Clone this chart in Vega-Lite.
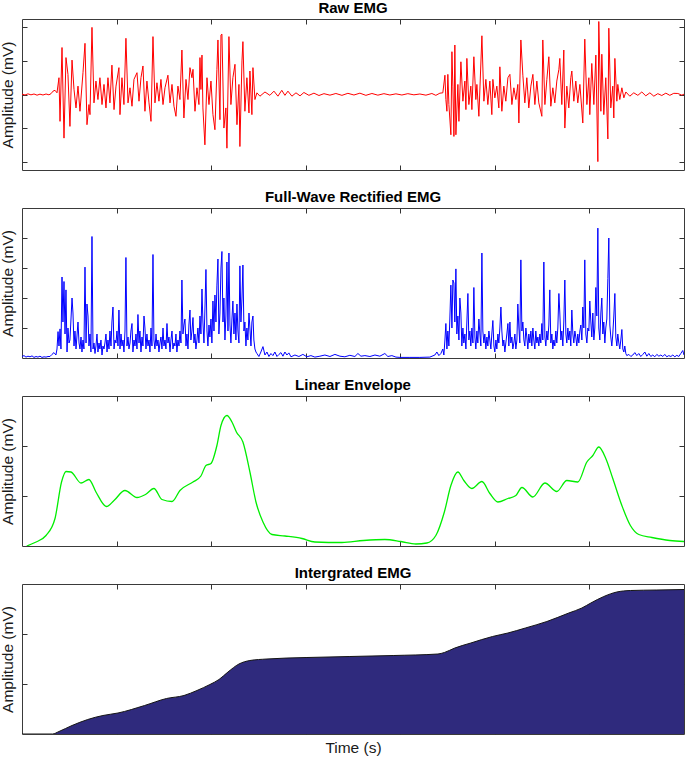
{
  "$schema": "https://vega.github.io/schema/vega-lite/v6.json",
  "padding": {"left": 0, "right": 1, "top": 0, "bottom": 0},
  "background": "white",
  "spacing": 18,
  "config": {
    "font": "Liberation Sans",
    "view": {"stroke": "#3a3a3a", "strokeWidth": 1},
    "title": {"fontSize": 15, "fontWeight": "bold", "color": "#000000", "offset": 3, "frame": "group", "font": "Liberation Sans"},
    "axis": {"labels": false, "domain": false, "grid": false, "tickSize": -5, "tickColor": "#333333", "tickWidth": 1, "titleFontSize": 15.5, "titleFontWeight": "normal", "titleColor": "#1a1a1a", "titlePadding": 6, "titleFont": "Liberation Sans"}
  },
  "datasets": {
    "frame": [{"t": 3.5, "v": 0.5}],
    "raw": [
      {"t":0,"v":0.02},{"t":0.032,"v":-0.03},{"t":0.063,"v":0.04},{"t":0.095,"v":-0.02},{"t":0.127,"v":0.03},{"t":0.159,"v":-0.04},{"t":0.19,"v":0.02},{"t":0.222,"v":-0.03},{"t":0.254,"v":0.03},{"t":0.285,"v":-0.02},{"t":0.307,"v":0.05},{"t":0.328,"v":0.2},{"t":0.349,"v":0.25},{"t":0.37,"v":0.1},
      {"t":0.391,"v":1.0},{"t":0.402,"v":-1.6},{"t":0.423,"v":2.8},{"t":0.444,"v":-2.6},{"t":0.465,"v":2.2},{"t":0.486,"v":1.2},{"t":0.507,"v":-1.9},{"t":0.529,"v":2.05},{"t":0.55,"v":0.3},{"t":0.571,"v":-0.8},{"t":0.592,"v":0.5},{"t":0.613,"v":-1.0},{"t":0.645,"v":1.3},{"t":0.666,"v":3.05},{"t":0.687,"v":-1.8},{"t":0.708,"v":-0.6},{"t":0.719,"v":-1.2},{"t":0.74,"v":4.0},{"t":0.761,"v":-0.5},{"t":0.782,"v":0.8},{"t":0.803,"v":-0.3},{"t":0.824,"v":1.0},{"t":0.846,"v":-0.6},{"t":0.867,"v":0.6},{"t":0.888,"v":-0.8},{"t":0.909,"v":1.0},{"t":0.93,"v":-0.5},{"t":0.951,"v":1.75},{"t":0.973,"v":-0.9},{"t":0.994,"v":0.5},{"t":1.025,"v":1.6},{"t":1.036,"v":-1.2},{"t":1.057,"v":1.0},{"t":1.078,"v":-0.6},{"t":1.099,"v":3.35},{"t":1.121,"v":-0.5},{"t":1.142,"v":0.4},{"t":1.163,"v":-0.7},{"t":1.184,"v":0.9},{"t":1.216,"v":1.3},{"t":1.237,"v":-0.4},{"t":1.258,"v":1.0},{"t":1.279,"v":1.7},{"t":1.3,"v":-1.0},{"t":1.321,"v":0.8},{"t":1.343,"v":-0.5},{"t":1.364,"v":-1.6},{"t":1.385,"v":3.45},{"t":1.406,"v":-0.5},{"t":1.427,"v":0.7},{"t":1.448,"v":-0.4},{"t":1.469,"v":0.9},{"t":1.491,"v":-0.6},{"t":1.512,"v":0.4},{"t":1.543,"v":1.15},{"t":1.565,"v":-0.5},{"t":1.586,"v":0.6},{"t":1.607,"v":-0.7},{"t":1.628,"v":-1.3},{"t":1.649,"v":0.5},{"t":1.67,"v":-0.3},{"t":1.691,"v":2.65},{"t":1.712,"v":-1.4},{"t":1.734,"v":0.9},{"t":1.755,"v":-0.3},{"t":1.776,"v":1.6},{"t":1.797,"v":1.0},{"t":1.808,"v":1.5},{"t":1.829,"v":-1.0},{"t":1.85,"v":0.4},{"t":1.871,"v":-0.6},{"t":1.882,"v":2.2},{"t":1.892,"v":0.3},{"t":1.903,"v":2.35},{"t":1.913,"v":-0.8},{"t":1.934,"v":-3.0},{"t":1.956,"v":1.0},{"t":1.977,"v":-0.6},{"t":1.998,"v":0.8},{"t":2.019,"v":-1.2},{"t":2.04,"v":-2.1},{"t":2.061,"v":1.5},{"t":2.072,"v":3.25},{"t":2.093,"v":-1.5},{"t":2.104,"v":3.55},{"t":2.114,"v":3.6},{"t":2.135,"v":-2.0},{"t":2.156,"v":-0.8},{"t":2.167,"v":-3.2},{"t":2.188,"v":3.45},{"t":2.209,"v":-0.6},{"t":2.23,"v":1.0},{"t":2.252,"v":1.8},{"t":2.273,"v":-1.8},{"t":2.294,"v":0.6},{"t":2.304,"v":-3.1},{"t":2.326,"v":2.0},{"t":2.336,"v":3.15},{"t":2.357,"v":-1.0},{"t":2.378,"v":1.0},{"t":2.4,"v":-1.1},{"t":2.41,"v":1.4},{"t":2.431,"v":-1.2},{"t":2.442,"v":1.6},{"t":2.463,"v":-0.3},{"t":2.484,"v":0.1},
      {"t":2.516,"v":-0.1},{"t":2.569,"v":0.15},{"t":2.621,"v":-0.05},{"t":2.664,"v":0.2},{"t":2.706,"v":-0.1},{"t":2.747,"v":0.25},{"t":2.78,"v":-0.05},{"t":2.812,"v":0.2},{"t":2.854,"v":-0.1},{"t":2.897,"v":0.1},{"t":2.94,"v":-0.08},{"t":2.981,"v":0.12},{"t":3.034,"v":-0.05},{"t":3.087,"v":0.08},{"t":3.14,"v":-0.06},{"t":3.193,"v":0.05},{"t":3.256,"v":-0.04},{"t":3.319,"v":0.06},{"t":3.383,"v":-0.05},{"t":3.446,"v":0.07},{"t":3.51,"v":-0.03},{"t":3.573,"v":0.08},{"t":3.636,"v":-0.05},{"t":3.7,"v":0.06},{"t":3.763,"v":-0.04},{"t":3.827,"v":0.05},{"t":3.89,"v":-0.03},{"t":3.954,"v":0.04},{"t":4.017,"v":-0.03},{"t":4.08,"v":0.05},{"t":4.144,"v":-0.02},{"t":4.207,"v":0.03},{"t":4.271,"v":-0.04},{"t":4.334,"v":0.06},{"t":4.376,"v":-0.05},{"t":4.419,"v":0.08},
      {"t":4.45,"v":0.1},{"t":4.472,"v":1.15},{"t":4.482,"v":-0.3},{"t":4.493,"v":-1.0},{"t":4.503,"v":1.2},{"t":4.514,"v":-0.6},{"t":4.535,"v":-2.4},{"t":4.546,"v":2.55},{"t":4.556,"v":0.5},{"t":4.567,"v":-2.5},{"t":4.577,"v":2.95},{"t":4.588,"v":-2.4},{"t":4.609,"v":0.6},{"t":4.62,"v":-1.6},{"t":4.641,"v":1.95},{"t":4.662,"v":-0.4},{"t":4.683,"v":0.8},{"t":4.694,"v":-0.9},{"t":4.704,"v":2.15},{"t":4.725,"v":-0.6},{"t":4.746,"v":0.5},{"t":4.757,"v":-0.9},{"t":4.778,"v":2.25},{"t":4.799,"v":-0.3},{"t":4.81,"v":0.6},{"t":4.831,"v":-1.3},{"t":4.863,"v":3.5},{"t":4.884,"v":-0.4},{"t":4.905,"v":0.9},{"t":4.926,"v":-0.6},{"t":4.947,"v":0.8},{"t":4.968,"v":-1.2},{"t":4.979,"v":0.9},{"t":5.0,"v":-0.2},{"t":5.021,"v":0.5},{"t":5.042,"v":-0.8},{"t":5.053,"v":1.65},{"t":5.074,"v":-1.0},{"t":5.095,"v":0.5},{"t":5.116,"v":-0.4},{"t":5.138,"v":1.0},{"t":5.159,"v":1.2},{"t":5.18,"v":-0.6},{"t":5.201,"v":0.4},{"t":5.222,"v":-0.3},{"t":5.243,"v":0.6},{"t":5.254,"v":-1.7},{"t":5.275,"v":3.25},{"t":5.296,"v":1.15},{"t":5.317,"v":-0.5},{"t":5.338,"v":1.0},{"t":5.359,"v":-0.8},{"t":5.381,"v":0.5},{"t":5.402,"v":1.2},{"t":5.423,"v":-0.6},{"t":5.444,"v":0.8},{"t":5.465,"v":-0.5},{"t":5.497,"v":-1.3},{"t":5.507,"v":3.25},{"t":5.529,"v":-0.6},{"t":5.55,"v":0.9},{"t":5.571,"v":2.25},{"t":5.592,"v":-0.7},{"t":5.613,"v":0.4},{"t":5.634,"v":-0.5},{"t":5.655,"v":0.8},{"t":5.677,"v":1.5},{"t":5.687,"v":2.15},{"t":5.708,"v":-0.6},{"t":5.729,"v":2.65},{"t":5.74,"v":-2.0},{"t":5.761,"v":0.5},{"t":5.782,"v":-0.8},{"t":5.803,"v":1.0},{"t":5.814,"v":1.4},{"t":5.835,"v":-0.4},{"t":5.856,"v":0.8},{"t":5.877,"v":-0.5},{"t":5.899,"v":0.6},{"t":5.93,"v":-1.7},{"t":5.951,"v":3.3},{"t":5.973,"v":-0.6},{"t":5.994,"v":1.0},{"t":6.004,"v":-1.2},{"t":6.025,"v":1.85},{"t":6.047,"v":-0.6},{"t":6.068,"v":2.35},{"t":6.089,"v":-4.0},{"t":6.099,"v":4.35},{"t":6.121,"v":-1.0},{"t":6.131,"v":2.4},{"t":6.152,"v":-1.2},{"t":6.173,"v":1.0},{"t":6.195,"v":-2.65},{"t":6.205,"v":3.95},{"t":6.226,"v":-0.8},{"t":6.247,"v":0.5},{"t":6.258,"v":-1.4},{"t":6.269,"v":2.15},{"t":6.29,"v":-0.4},{"t":6.3,"v":0.6},{"t":6.321,"v":-0.3},{"t":6.343,"v":0.4},{"t":6.364,"v":-0.2},{"t":6.385,"v":0.15},
      {"t":6.427,"v":-0.1},{"t":6.469,"v":0.1},{"t":6.512,"v":-0.05},{"t":6.554,"v":0.15},{"t":6.596,"v":-0.08},{"t":6.639,"v":0.1},{"t":6.681,"v":-0.1},{"t":6.723,"v":0.05},{"t":6.765,"v":-0.06},{"t":6.808,"v":0.08},{"t":6.85,"v":-0.05},{"t":6.892,"v":0.07},{"t":6.935,"v":0.06},{"t":6.977,"v":-0.04},{"t":7.0,"v":0.02}
    ],
    "rect": [
      {"t":0,"v":0.05},{"t":0.021,"v":0.08},{"t":0.042,"v":0.03},{"t":0.063,"v":0.06},{"t":0.085,"v":0.04},{"t":0.106,"v":0.07},{"t":0.127,"v":0.02},{"t":0.148,"v":0.05},{"t":0.169,"v":0.03},{"t":0.19,"v":0.06},{"t":0.211,"v":0.02},{"t":0.233,"v":0.04},{"t":0.254,"v":0.03},{"t":0.275,"v":0.05},
      {"t":0.296,"v":0.05},{"t":0.317,"v":0.12},{"t":0.338,"v":0.18},{"t":0.359,"v":0.1},{"t":0.37,"v":0.3},{"t":0.381,"v":0.88},{"t":0.391,"v":0.4},{"t":0.402,"v":0.97},{"t":0.412,"v":0.3},{"t":0.423,"v":2.7},{"t":0.433,"v":1.2},{"t":0.444,"v":2.55},{"t":0.455,"v":0.8},{"t":0.465,"v":2.27},{"t":0.476,"v":0.2},{"t":0.486,"v":1.0},{"t":0.497,"v":0.5},{"t":0.507,"v":0.6},{"t":0.518,"v":1.3},{"t":0.529,"v":2.0},{"t":0.539,"v":1.5},{"t":0.55,"v":0.4},{"t":0.56,"v":0.9},{"t":0.571,"v":0.3},{"t":0.592,"v":1.2},{"t":0.603,"v":0.5},{"t":0.613,"v":0.3},{"t":0.624,"v":0.7},{"t":0.634,"v":0.2},{"t":0.645,"v":0.6},{"t":0.655,"v":0.3},{"t":0.666,"v":3.03},{"t":0.677,"v":0.5},{"t":0.687,"v":1.8},{"t":0.698,"v":1.4},{"t":0.708,"v":0.4},{"t":0.719,"v":0.8},{"t":0.729,"v":0.2},{"t":0.74,"v":4.05},{"t":0.751,"v":0.3},{"t":0.761,"v":0.5},{"t":0.772,"v":0.15},{"t":0.782,"v":0.4},{"t":0.793,"v":0.8},{"t":0.803,"v":0.2},{"t":0.814,"v":0.5},{"t":0.824,"v":0.3},{"t":0.835,"v":0.6},{"t":0.846,"v":0.1},{"t":0.856,"v":0.4},{"t":0.867,"v":0.3},{"t":0.877,"v":0.5},{"t":0.888,"v":0.8},{"t":0.899,"v":0.2},{"t":0.909,"v":0.6},{"t":0.92,"v":0.3},{"t":0.93,"v":0.9},{"t":0.941,"v":0.4},{"t":0.951,"v":1.2},{"t":0.962,"v":1.7},{"t":0.973,"v":0.3},{"t":0.983,"v":0.6},{"t":0.994,"v":0.5},{"t":1.004,"v":0.9},{"t":1.015,"v":0.4},{"t":1.025,"v":1.6},{"t":1.036,"v":0.3},{"t":1.047,"v":0.8},{"t":1.057,"v":0.4},{"t":1.068,"v":0.6},{"t":1.078,"v":0.2},{"t":1.089,"v":0.9},{"t":1.099,"v":3.35},{"t":1.11,"v":0.4},{"t":1.121,"v":0.7},{"t":1.131,"v":0.3},{"t":1.142,"v":0.5},{"t":1.152,"v":0.9},{"t":1.163,"v":1.15},{"t":1.173,"v":0.2},{"t":1.184,"v":0.6},{"t":1.195,"v":0.4},{"t":1.205,"v":0.8},{"t":1.216,"v":0.3},{"t":1.226,"v":1.45},{"t":1.237,"v":0.5},{"t":1.247,"v":0.9},{"t":1.258,"v":0.2},{"t":1.269,"v":0.7},{"t":1.279,"v":0.4},{"t":1.29,"v":1.4},{"t":1.3,"v":1.0},{"t":1.311,"v":0.3},{"t":1.321,"v":0.8},{"t":1.332,"v":0.4},{"t":1.343,"v":0.6},{"t":1.353,"v":0.2},{"t":1.364,"v":1.0},{"t":1.374,"v":0.4},{"t":1.385,"v":3.45},{"t":1.395,"v":0.6},{"t":1.406,"v":0.3},{"t":1.417,"v":0.8},{"t":1.427,"v":0.4},{"t":1.438,"v":0.6},{"t":1.448,"v":0.2},{"t":1.459,"v":0.5},{"t":1.469,"v":0.7},{"t":1.48,"v":0.3},{"t":1.491,"v":1.0},{"t":1.501,"v":0.4},{"t":1.512,"v":0.6},{"t":1.522,"v":0.3},{"t":1.533,"v":1.15},{"t":1.543,"v":0.5},{"t":1.554,"v":0.7},{"t":1.565,"v":0.2},{"t":1.575,"v":0.6},{"t":1.586,"v":0.9},{"t":1.596,"v":0.3},{"t":1.607,"v":0.5},{"t":1.617,"v":0.4},{"t":1.628,"v":0.8},{"t":1.638,"v":0.2},{"t":1.649,"v":0.6},{"t":1.66,"v":0.4},{"t":1.67,"v":0.9},{"t":1.681,"v":0.5},{"t":1.691,"v":2.6},{"t":1.702,"v":0.8},{"t":1.712,"v":1.1},{"t":1.723,"v":1.3},{"t":1.734,"v":0.4},{"t":1.744,"v":0.8},{"t":1.755,"v":0.3},{"t":1.765,"v":1.1},{"t":1.776,"v":1.6},{"t":1.786,"v":0.6},{"t":1.797,"v":0.9},{"t":1.808,"v":1.35},{"t":1.818,"v":0.5},{"t":1.829,"v":0.8},{"t":1.839,"v":0.3},{"t":1.85,"v":0.6},{"t":1.86,"v":1.0},{"t":1.871,"v":0.5},{"t":1.882,"v":1.4},{"t":1.892,"v":0.8},{"t":1.903,"v":2.3},{"t":1.913,"v":1.2},{"t":1.924,"v":0.5},{"t":1.934,"v":1.6},{"t":1.945,"v":2.95},{"t":1.956,"v":0.9},{"t":1.966,"v":0.4},{"t":1.977,"v":1.1},{"t":1.987,"v":0.7},{"t":1.998,"v":1.3},{"t":2.008,"v":0.5},{"t":2.019,"v":1.9},{"t":2.03,"v":0.9},{"t":2.04,"v":2.1},{"t":2.051,"v":1.2},{"t":2.061,"v":2.43},{"t":2.072,"v":3.3},{"t":2.082,"v":0.8},{"t":2.093,"v":1.5},{"t":2.104,"v":3.0},{"t":2.114,"v":3.55},{"t":2.125,"v":1.2},{"t":2.135,"v":2.0},{"t":2.146,"v":0.6},{"t":2.156,"v":1.4},{"t":2.167,"v":3.2},{"t":2.178,"v":0.9},{"t":2.188,"v":3.5},{"t":2.199,"v":1.1},{"t":2.209,"v":0.5},{"t":2.22,"v":1.3},{"t":2.23,"v":1.9},{"t":2.241,"v":0.8},{"t":2.252,"v":1.5},{"t":2.262,"v":0.6},{"t":2.273,"v":1.8},{"t":2.283,"v":0.9},{"t":2.294,"v":0.5},{"t":2.304,"v":3.07},{"t":2.315,"v":1.2},{"t":2.326,"v":2.0},{"t":2.336,"v":3.1},{"t":2.347,"v":0.9},{"t":2.357,"v":1.2},{"t":2.368,"v":0.4},{"t":2.378,"v":1.0},{"t":2.389,"v":0.6},{"t":2.4,"v":1.5},{"t":2.41,"v":1.0},{"t":2.421,"v":0.4},{"t":2.431,"v":1.2},{"t":2.442,"v":1.4},{"t":2.452,"v":0.6},{"t":2.463,"v":0.3},{"t":2.474,"v":0.2},
      {"t":2.484,"v":0.15},{"t":2.505,"v":0.05},{"t":2.526,"v":0.2},{"t":2.548,"v":0.38},{"t":2.569,"v":0.1},{"t":2.59,"v":0.2},{"t":2.611,"v":0.05},{"t":2.632,"v":0.15},{"t":2.653,"v":0.08},{"t":2.674,"v":0.2},{"t":2.696,"v":0.05},{"t":2.717,"v":0.12},{"t":2.738,"v":0.18},{"t":2.759,"v":0.06},{"t":2.78,"v":0.2},{"t":2.801,"v":0.1},{"t":2.822,"v":0.17},{"t":2.844,"v":0.04},{"t":2.886,"v":0.1},{"t":2.928,"v":0.05},{"t":2.97,"v":0.12},{"t":3.013,"v":0.04},{"t":3.055,"v":0.08},{"t":3.097,"v":0.03},{"t":3.15,"v":0.06},{"t":3.203,"v":0.1},{"t":3.256,"v":0.05},{"t":3.309,"v":0.12},{"t":3.362,"v":0.06},{"t":3.414,"v":0.04},{"t":3.467,"v":0.09},{"t":3.52,"v":0.05},{"t":3.552,"v":0.15},{"t":3.584,"v":0.06},{"t":3.626,"v":0.08},{"t":3.679,"v":0.05},{"t":3.732,"v":0.1},{"t":3.784,"v":0.06},{"t":3.837,"v":0.15},{"t":3.869,"v":0.05},{"t":3.911,"v":0.08},{"t":3.954,"v":0.03},{"t":3.996,"v":0.02},{"t":4.102,"v":0.02},{"t":4.207,"v":0.02},{"t":4.313,"v":0.03},{"t":4.366,"v":0.1},{"t":4.387,"v":0.2},{"t":4.408,"v":0.08},{"t":4.429,"v":0.15},{"t":4.45,"v":0.3},{"t":4.461,"v":0.1},
      {"t":4.472,"v":0.6},{"t":4.482,"v":1.15},{"t":4.493,"v":0.3},{"t":4.503,"v":0.9},{"t":4.514,"v":0.4},{"t":4.524,"v":1.3},{"t":4.535,"v":2.43},{"t":4.546,"v":1.0},{"t":4.556,"v":2.6},{"t":4.567,"v":2.5},{"t":4.577,"v":1.2},{"t":4.588,"v":2.97},{"t":4.598,"v":0.8},{"t":4.609,"v":1.4},{"t":4.62,"v":0.6},{"t":4.63,"v":2.0},{"t":4.641,"v":1.5},{"t":4.651,"v":0.4},{"t":4.662,"v":1.0},{"t":4.672,"v":0.5},{"t":4.683,"v":0.8},{"t":4.694,"v":0.3},{"t":4.704,"v":1.2},{"t":4.715,"v":2.15},{"t":4.725,"v":0.6},{"t":4.736,"v":0.9},{"t":4.746,"v":0.4},{"t":4.757,"v":1.0},{"t":4.768,"v":0.5},{"t":4.778,"v":2.35},{"t":4.789,"v":0.7},{"t":4.799,"v":0.3},{"t":4.81,"v":0.9},{"t":4.82,"v":0.5},{"t":4.831,"v":1.3},{"t":4.842,"v":0.8},{"t":4.852,"v":0.4},{"t":4.863,"v":3.5},{"t":4.873,"v":0.9},{"t":4.884,"v":0.5},{"t":4.894,"v":0.8},{"t":4.905,"v":0.3},{"t":4.916,"v":0.7},{"t":4.926,"v":0.4},{"t":4.937,"v":0.9},{"t":4.947,"v":0.6},{"t":4.958,"v":0.3},{"t":4.968,"v":0.8},{"t":4.979,"v":1.25},{"t":4.99,"v":0.4},{"t":5.0,"v":0.2},{"t":5.011,"v":0.6},{"t":5.021,"v":0.3},{"t":5.032,"v":0.8},{"t":5.042,"v":0.5},{"t":5.053,"v":1.0},{"t":5.064,"v":1.7},{"t":5.074,"v":0.9},{"t":5.085,"v":0.4},{"t":5.095,"v":0.6},{"t":5.106,"v":0.2},{"t":5.116,"v":0.5},{"t":5.127,"v":0.8},{"t":5.138,"v":1.15},{"t":5.148,"v":0.4},{"t":5.159,"v":1.2},{"t":5.169,"v":0.5},{"t":5.18,"v":0.7},{"t":5.19,"v":0.3},{"t":5.201,"v":0.5},{"t":5.212,"v":0.8},{"t":5.222,"v":0.3},{"t":5.233,"v":0.6},{"t":5.243,"v":1.8},{"t":5.254,"v":1.0},{"t":5.264,"v":0.5},{"t":5.275,"v":3.27},{"t":5.286,"v":0.9},{"t":5.296,"v":1.2},{"t":5.307,"v":0.6},{"t":5.317,"v":0.4},{"t":5.328,"v":1.0},{"t":5.338,"v":0.7},{"t":5.349,"v":0.3},{"t":5.359,"v":0.8},{"t":5.37,"v":0.5},{"t":5.381,"v":0.9},{"t":5.391,"v":0.4},{"t":5.402,"v":1.0},{"t":5.412,"v":0.6},{"t":5.423,"v":0.3},{"t":5.433,"v":0.9},{"t":5.444,"v":0.5},{"t":5.455,"v":0.7},{"t":5.465,"v":0.4},{"t":5.476,"v":0.8},{"t":5.486,"v":0.5},{"t":5.497,"v":1.15},{"t":5.507,"v":0.6},{"t":5.518,"v":3.2},{"t":5.529,"v":0.7},{"t":5.539,"v":0.4},{"t":5.55,"v":0.9},{"t":5.56,"v":0.6},{"t":5.571,"v":1.1},{"t":5.581,"v":2.27},{"t":5.592,"v":0.5},{"t":5.603,"v":0.8},{"t":5.613,"v":0.3},{"t":5.624,"v":0.6},{"t":5.634,"v":0.4},{"t":5.645,"v":0.9},{"t":5.655,"v":0.5},{"t":5.666,"v":1.0},{"t":5.677,"v":2.15},{"t":5.687,"v":1.5},{"t":5.698,"v":0.6},{"t":5.708,"v":0.9},{"t":5.719,"v":0.4},{"t":5.729,"v":1.2},{"t":5.74,"v":2.6},{"t":5.751,"v":0.8},{"t":5.761,"v":0.5},{"t":5.772,"v":1.0},{"t":5.782,"v":0.6},{"t":5.793,"v":0.9},{"t":5.803,"v":0.4},{"t":5.814,"v":1.6},{"t":5.825,"v":0.8},{"t":5.835,"v":0.5},{"t":5.846,"v":0.9},{"t":5.856,"v":0.7},{"t":5.867,"v":0.4},{"t":5.877,"v":0.8},{"t":5.888,"v":0.5},{"t":5.899,"v":0.9},{"t":5.909,"v":1.1},{"t":5.92,"v":0.6},{"t":5.93,"v":1.7},{"t":5.941,"v":1.0},{"t":5.951,"v":3.27},{"t":5.962,"v":0.8},{"t":5.973,"v":0.5},{"t":5.983,"v":1.0},{"t":5.994,"v":0.9},{"t":6.004,"v":1.9},{"t":6.015,"v":1.2},{"t":6.025,"v":0.7},{"t":6.036,"v":1.5},{"t":6.047,"v":0.6},{"t":6.057,"v":1.0},{"t":6.068,"v":2.35},{"t":6.078,"v":1.4},{"t":6.089,"v":4.33},{"t":6.099,"v":1.0},{"t":6.11,"v":0.6},{"t":6.121,"v":1.5},{"t":6.131,"v":2.0},{"t":6.142,"v":0.8},{"t":6.152,"v":1.2},{"t":6.163,"v":0.5},{"t":6.173,"v":1.0},{"t":6.184,"v":1.3},{"t":6.195,"v":2.65},{"t":6.205,"v":4.0},{"t":6.216,"v":1.1},{"t":6.226,"v":0.7},{"t":6.237,"v":0.4},{"t":6.247,"v":0.8},{"t":6.258,"v":1.4},{"t":6.269,"v":2.15},{"t":6.279,"v":0.7},{"t":6.29,"v":0.4},{"t":6.3,"v":0.8},{"t":6.311,"v":0.5},{"t":6.321,"v":0.3},{"t":6.332,"v":0.6},{"t":6.343,"v":0.95},{"t":6.353,"v":0.3},{"t":6.364,"v":0.2},{"t":6.374,"v":0.4},{"t":6.385,"v":0.15},{"t":6.395,"v":0.08},
      {"t":6.417,"v":0.12},{"t":6.438,"v":0.05},{"t":6.459,"v":0.1},{"t":6.48,"v":0.18},{"t":6.501,"v":0.08},{"t":6.522,"v":0.15},{"t":6.543,"v":0.05},{"t":6.565,"v":0.12},{"t":6.586,"v":0.2},{"t":6.607,"v":0.06},{"t":6.628,"v":0.15},{"t":6.649,"v":0.05},{"t":6.67,"v":0.1},{"t":6.691,"v":0.04},{"t":6.713,"v":0.12},{"t":6.734,"v":0.06},{"t":6.755,"v":0.1},{"t":6.776,"v":0.05},{"t":6.797,"v":0.12},{"t":6.818,"v":0.04},{"t":6.839,"v":0.08},{"t":6.861,"v":0.05},{"t":6.882,"v":0.1},{"t":6.903,"v":0.04},{"t":6.924,"v":0.09},{"t":6.945,"v":0.05},{"t":6.966,"v":0.15},{"t":6.987,"v":0.25},{"t":7.0,"v":0.1}
    ],
    "env": [
      {"t":0.05,"v":0},{"t":0.137,"v":0.07},{"t":0.254,"v":0.21},{"t":0.349,"v":0.55},{"t":0.418,"v":1.28},{"t":0.465,"v":1.49},{"t":0.518,"v":1.48},{"t":0.624,"v":1.26},{"t":0.708,"v":1.33},{"t":0.782,"v":1.08},{"t":0.893,"v":0.79},{"t":0.973,"v":0.91},{"t":1.089,"v":1.11},{"t":1.216,"v":0.97},{"t":1.306,"v":1.03},{"t":1.395,"v":1.15},{"t":1.48,"v":0.93},{"t":1.586,"v":0.89},{"t":1.67,"v":1.11},{"t":1.808,"v":1.28},{"t":1.892,"v":1.4},{"t":1.945,"v":1.61},{"t":1.998,"v":1.65},{"t":2.061,"v":2.01},{"t":2.104,"v":2.41},{"t":2.167,"v":2.61},{"t":2.22,"v":2.48},{"t":2.267,"v":2.28},{"t":2.336,"v":2.08},{"t":2.41,"v":1.48},{"t":2.474,"v":0.88},{"t":2.548,"v":0.48},{"t":2.643,"v":0.23},{"t":2.78,"v":0.2},{"t":2.96,"v":0.15},{"t":3.097,"v":0.08},{"t":3.383,"v":0.07},{"t":3.61,"v":0.11},{"t":3.837,"v":0.13},{"t":4.006,"v":0.09},{"t":4.165,"v":0.04},{"t":4.281,"v":0.06},{"t":4.376,"v":0.21},{"t":4.466,"v":0.68},{"t":4.535,"v":1.21},{"t":4.609,"v":1.48},{"t":4.672,"v":1.31},{"t":4.757,"v":1.15},{"t":4.863,"v":1.29},{"t":4.947,"v":1.05},{"t":5.032,"v":0.88},{"t":5.138,"v":0.95},{"t":5.222,"v":1.01},{"t":5.286,"v":1.17},{"t":5.402,"v":0.98},{"t":5.529,"v":1.26},{"t":5.655,"v":1.09},{"t":5.761,"v":1.31},{"t":5.877,"v":1.28},{"t":5.973,"v":1.68},{"t":6.036,"v":1.81},{"t":6.099,"v":1.98},{"t":6.173,"v":1.75},{"t":6.247,"v":1.35},{"t":6.343,"v":0.81},{"t":6.433,"v":0.41},{"t":6.522,"v":0.23},{"t":6.66,"v":0.17},{"t":6.85,"v":0.11},{"t":7.0,"v":0.09}
    ],
    "integ": [
      {"t":0,"v":0},{"t":0.323,"v":0},{"t":0.391,"v":0.05},{"t":0.529,"v":0.17},{"t":0.695,"v":0.29},{"t":0.856,"v":0.37},{"t":1.015,"v":0.42},{"t":1.296,"v":0.57},{"t":1.528,"v":0.71},{"t":1.713,"v":0.77},{"t":1.85,"v":0.87},{"t":1.987,"v":0.99},{"t":2.083,"v":1.09},{"t":2.178,"v":1.24},{"t":2.294,"v":1.4},{"t":2.41,"v":1.47},{"t":2.59,"v":1.5},{"t":3.013,"v":1.53},{"t":3.467,"v":1.55},{"t":3.932,"v":1.57},{"t":4.398,"v":1.6},{"t":4.466,"v":1.63},{"t":4.577,"v":1.72},{"t":4.746,"v":1.82},{"t":4.975,"v":1.95},{"t":5.138,"v":2.02},{"t":5.323,"v":2.12},{"t":5.55,"v":2.25},{"t":5.782,"v":2.42},{"t":5.92,"v":2.52},{"t":6.015,"v":2.62},{"t":6.152,"v":2.75},{"t":6.29,"v":2.84},{"t":6.433,"v":2.87},{"t":6.713,"v":2.88},{"t":7.0,"v":2.89}
    ]
  },
  "vconcat": [
    {
      "title": "Raw EMG",
      "width": 662,
      "height": 151,
      "layer": [
        {
          "data": {"name": "raw"},
          "mark": {"type": "line", "color": "#ff0000", "strokeWidth": 1, "clip": true},
          "encoding": {
            "x": {"field": "t", "type": "quantitative", "scale": {"domain": [0, 7], "nice": false, "zero": false}, "axis": {"orient": "bottom", "values": [1, 2, 3, 4, 5, 6], "title": null}},
            "y": {"field": "v", "type": "quantitative", "scale": {"domain": [-4.5, 4.5], "nice": false, "zero": false}, "axis": {"orient": "left", "values": [-4, -2, 0, 2, 4], "title": "Amplitude (mV)"}}
          }
        },
        {
          "data": {"name": "frame"},
          "mark": {"type": "point", "opacity": 0, "size": 1},
          "encoding": {
            "x": {"field": "t", "type": "quantitative", "axis": {"orient": "top", "values": [1, 2, 3, 4, 5, 6], "title": null}},
            "y": {"field": "v", "type": "quantitative", "axis": {"orient": "right", "values": [-4, -2, 0, 2, 4], "title": null}}
          }
        }
      ],
      "resolve": {"axis": {"x": "independent", "y": "independent"}}
    },
    {
      "title": "Full-Wave Rectified EMG",
      "width": 662,
      "height": 150,
      "layer": [
        {
          "data": {"name": "rect"},
          "mark": {"type": "line", "color": "#0000ff", "strokeWidth": 1, "clip": true},
          "encoding": {
            "x": {"field": "t", "type": "quantitative", "scale": {"domain": [0, 7], "nice": false, "zero": false}, "axis": {"orient": "bottom", "values": [1, 2, 3, 4, 5, 6], "title": null}},
            "y": {"field": "v", "type": "quantitative", "scale": {"domain": [0, 5], "nice": false}, "axis": {"orient": "left", "values": [1, 2, 3, 4], "title": "Amplitude (mV)"}}
          }
        },
        {
          "data": {"name": "frame"},
          "mark": {"type": "point", "opacity": 0, "size": 1},
          "encoding": {
            "x": {"field": "t", "type": "quantitative", "axis": {"orient": "top", "values": [1, 2, 3, 4, 5, 6], "title": null}},
            "y": {"field": "v", "type": "quantitative", "axis": {"orient": "right", "values": [1, 2, 3, 4], "title": null}}
          }
        }
      ],
      "resolve": {"axis": {"x": "independent", "y": "independent"}}
    },
    {
      "title": "Linear Envelope",
      "width": 662,
      "height": 150,
      "layer": [
        {
          "data": {"name": "env"},
          "mark": {"type": "line", "color": "#00ee00", "strokeWidth": 1.3, "interpolate": "monotone", "clip": true},
          "encoding": {
            "x": {"field": "t", "type": "quantitative", "scale": {"domain": [0, 7], "nice": false, "zero": false}, "axis": {"orient": "bottom", "values": [1, 2, 3, 4, 5, 6], "title": null}},
            "y": {"field": "v", "type": "quantitative", "scale": {"domain": [0, 3], "nice": false}, "axis": {"orient": "left", "values": [1, 2], "title": "Amplitude (mV)"}}
          }
        },
        {
          "data": {"name": "frame"},
          "mark": {"type": "point", "opacity": 0, "size": 1},
          "encoding": {
            "x": {"field": "t", "type": "quantitative", "axis": {"orient": "top", "values": [1, 2, 3, 4, 5, 6], "title": null}},
            "y": {"field": "v", "type": "quantitative", "axis": {"orient": "right", "values": [1, 2], "title": null}}
          }
        }
      ],
      "resolve": {"axis": {"x": "independent", "y": "independent"}}
    },
    {
      "title": "Intergrated EMG",
      "width": 662,
      "height": 150,
      "layer": [
        {
          "data": {"name": "integ"},
          "mark": {"type": "area", "color": "#2f2a7d", "interpolate": "monotone", "opacity": 1, "line": {"color": "#151515", "strokeWidth": 1}, "clip": true},
          "encoding": {
            "x": {"field": "t", "type": "quantitative", "scale": {"domain": [0, 7], "nice": false, "zero": false}, "axis": {"orient": "bottom", "values": [1, 2, 3, 4, 5, 6], "title": "Time (s)", "titlePadding": 6}},
            "y": {"field": "v", "type": "quantitative", "scale": {"domain": [0, 3], "nice": false}, "axis": {"orient": "left", "values": [1, 2], "title": "Amplitude (mV)"}}
          }
        },
        {
          "data": {"name": "frame"},
          "mark": {"type": "point", "opacity": 0, "size": 1},
          "encoding": {
            "x": {"field": "t", "type": "quantitative", "axis": {"orient": "top", "values": [1, 2, 3, 4, 5, 6], "title": null}},
            "y": {"field": "v", "type": "quantitative", "axis": {"orient": "right", "values": [1, 2], "title": null}}
          }
        }
      ],
      "resolve": {"axis": {"x": "independent", "y": "independent"}}
    }
  ]
}
